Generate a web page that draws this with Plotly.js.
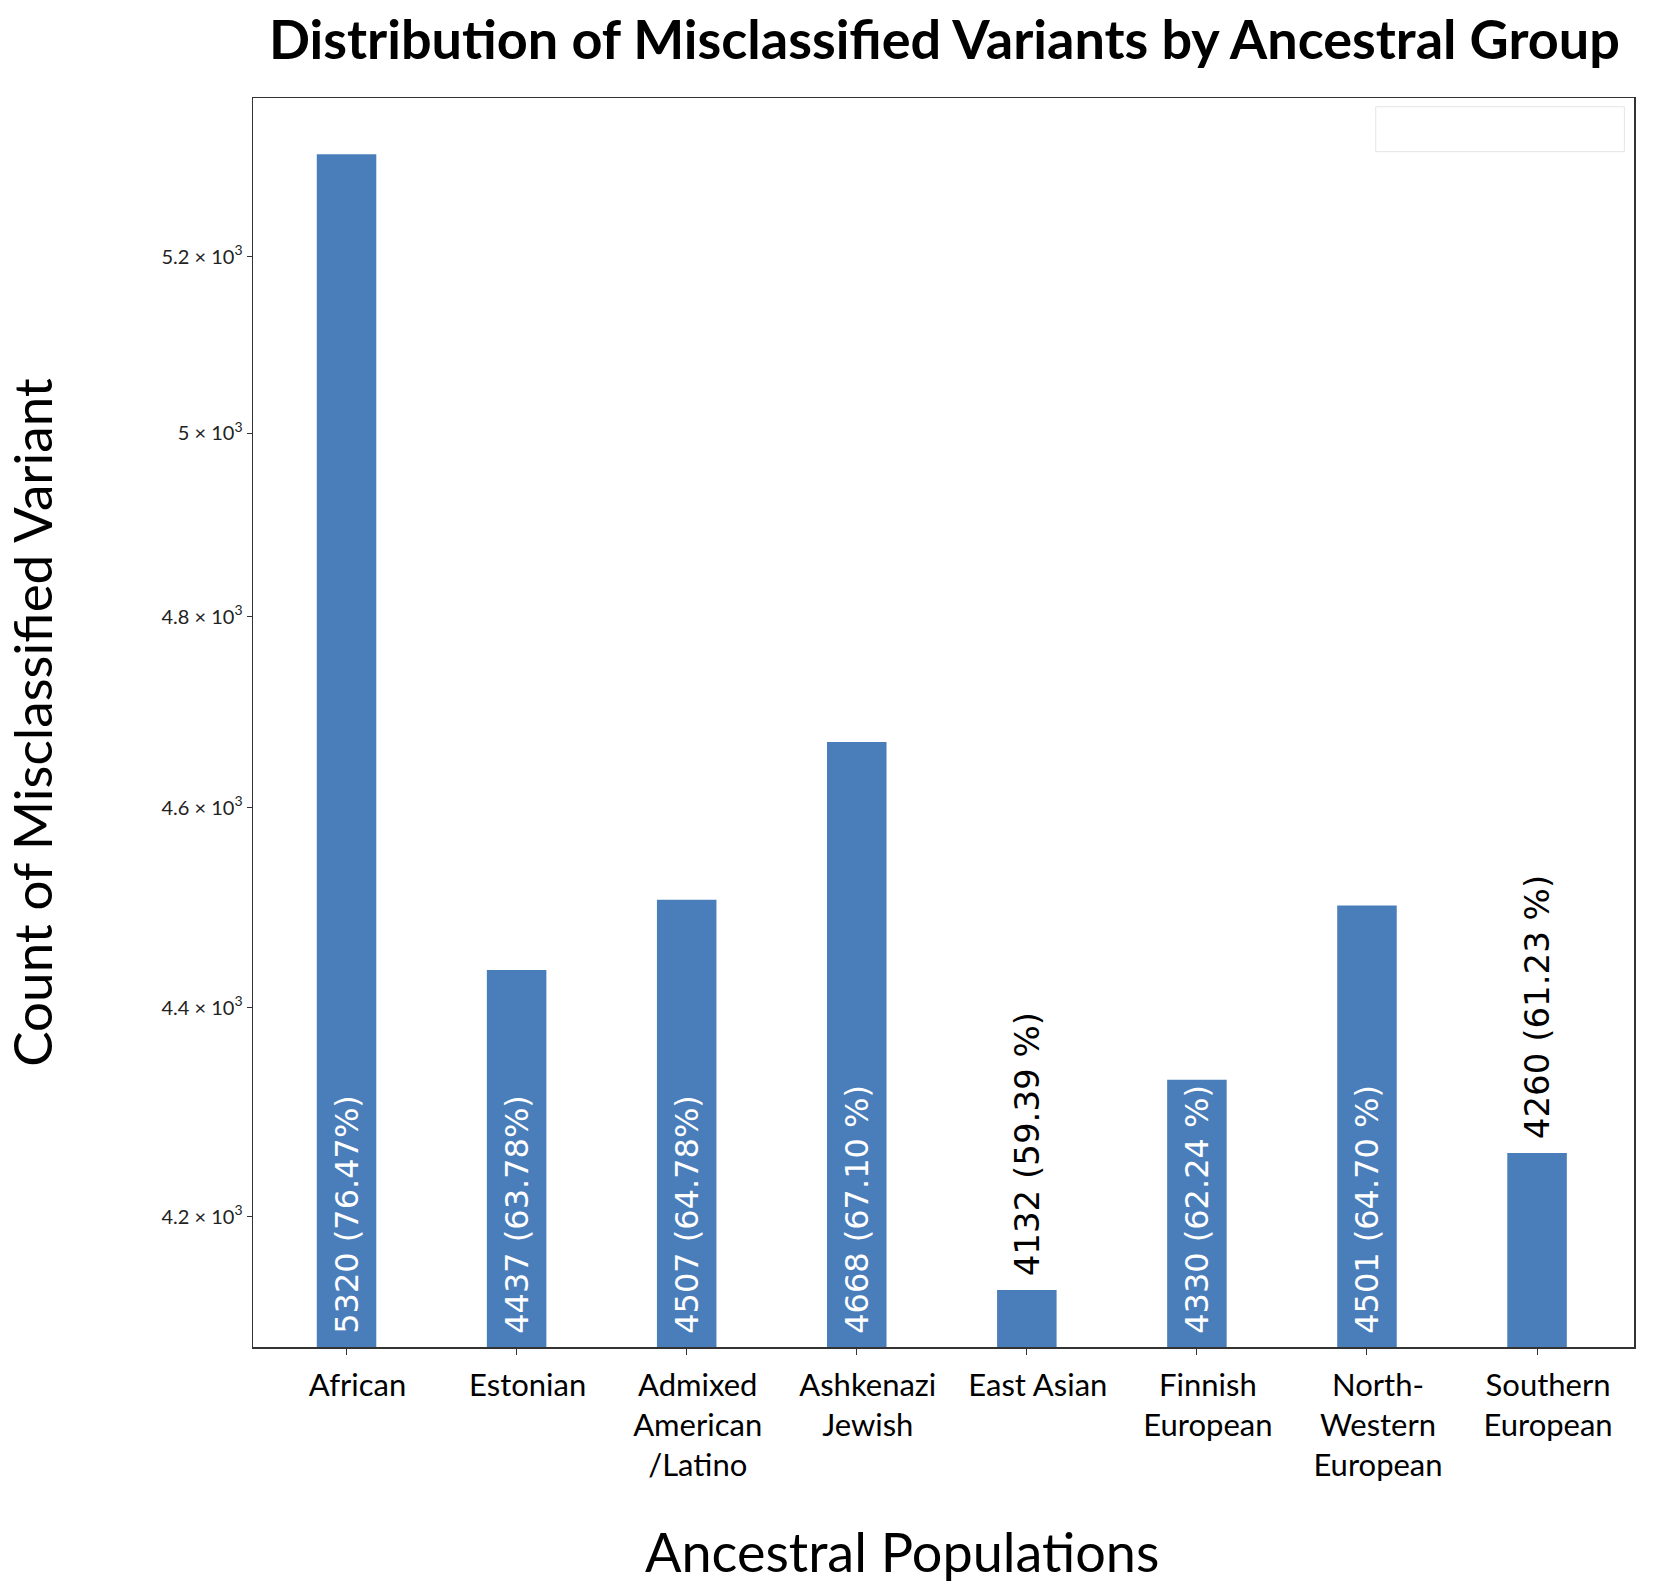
<!DOCTYPE html>
<html>
<head>
<meta charset="utf-8">
<script src="https://cdn.plot.ly/plotly-3.0.1.min.js"></script>
<style>
  body { margin: 0; background: #fff; }
  #chart { width: 1654px; height: 1596px; }
</style>
</head>
<body>
<div id="chart"></div>
<script>
// ancestral groups and misclassified variant counts
const groups = ['African', 'Estonian', 'Admixed<br>American<br>/Latino', 'Ashkenazi<br>Jewish',
    'East Asian', 'Finnish<br>European', 'North-<br>Western<br>European', 'Southern<br>European'];
const counts = [5320, 4437, 4507, 4668, 4132, 4330, 4501, 4260];
const percents = ['76.47%', '63.78%', '64.78%', '67.10 %', '59.39 %', '62.24 %', '64.70 %', '61.23 %'];
const labelPlace = ['inside', 'inside', 'inside', 'inside', 'outside', 'inside', 'inside', 'outside'];

const yTickVals = [4200, 4400, 4600, 4800, 5000, 5200];
const yTickText = ['4.2 × 10<sup>3</sup>', '4.4 × 10<sup>3</sup>', '4.6 × 10<sup>3</sup>',
    '4.8 × 10<sup>3</sup>', '5 × 10<sup>3</sup>', '5.2 × 10<sup>3</sup>'];

const yMin = 4080;
const yMax = 5387;

// leading no-break space keeps the labels a little off the bar ends
const labels = counts.map((c, i) => `\u00a0${c} (${percents[i]})`);

const trace = {
    type: 'bar',
    x: groups.map((g, i) => i),
    y: counts.map(c => c - yMin),
    base: yMin,
    width: 0.35,
    marker: { color: '#4a7ebb' },
    text: labels,
    textposition: labelPlace,
    textangle: -90,
    constraintext: 'none',
    insidetextanchor: 'start',
    insidetextfont: { family: 'DejaVu Sans', size: 32, color: '#ffffff' },
    outsidetextfont: { family: 'DejaVu Sans', size: 34, color: '#000000' },
    cliponaxis: false,
    hoverinfo: 'skip',
};

const layout = {
    width: 1654,
    height: 1596,
    margin: { l: 253, r: 20, t: 98, b: 249 },
    paper_bgcolor: '#ffffff',
    plot_bgcolor: '#ffffff',
    showlegend: false,
    title: {
        text: 'Distribution of Misclassified Variants by Ancestral Group',
        font: { family: 'Lato', size: 54, color: '#000000', weight: 700 },
        x: 0.571,
        xanchor: 'center',
        y: 0.975,
        yanchor: 'middle',
    },
    xaxis: {
        range: [-0.55, 7.57],
        tickmode: 'array',
        tickvals: groups.map((g, i) => i),
        ticktext: groups,
        ticks: 'outside',
        ticklen: 6,
        tickcolor: '#333333',
        ticklabelstandoff: 4,
        ticklabelshift: 11,
        tickfont: { family: 'Lato', size: 31, color: '#000000' },
        showline: true,
        linecolor: '#333333',
        linewidth: 1.5,
        mirror: true,
        showgrid: false,
        zeroline: false,
    },
    yaxis: {
        type: 'log',
        range: [Math.log10(yMin), Math.log10(yMax)],
        tickmode: 'array',
        tickvals: yTickVals,
        ticktext: yTickText,
        ticks: 'outside',
        ticklen: 5,
        tickcolor: '#333333',
        tickfont: { family: 'Lato', size: 20, color: '#222222' },
        showline: true,
        linecolor: '#333333',
        linewidth: 1.5,
        mirror: true,
        showgrid: false,
        zeroline: false,
        title: {
            text: 'Count of Misclassified Variant',
            font: { family: 'Lato', size: 53, color: '#000000' },
            standoff: 92,
        },
    },
    annotations: [{
        // x axis title, sits a little left of the plot centre
        text: 'Ancestral Populations',
        xref: 'paper', yref: 'paper',
        x: 0.47, y: -0.1637,
        xanchor: 'center', yanchor: 'middle',
        showarrow: false,
        font: { family: 'Lato', size: 54, color: '#000000' },
    }],
    shapes: [{
        // empty legend frame, top right corner
        type: 'rect', xref: 'paper', yref: 'paper',
        x0: 0.813, x1: 0.993, y0: 0.957, y1: 0.993,
        line: { color: '#e4e4e4', width: 1 },
        fillcolor: 'rgba(0,0,0,0)',
    }],
};

Plotly.newPlot('chart', [trace], layout, { staticPlot: true });
</script>
</body>
</html>
